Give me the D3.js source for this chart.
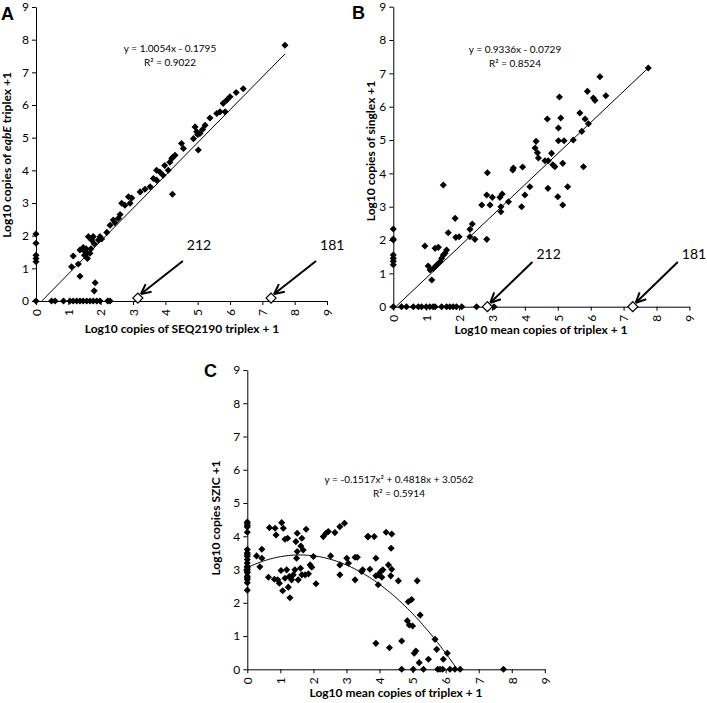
<!DOCTYPE html>
<html><head><meta charset="utf-8">
<script src="https://cdn.jsdelivr.net/npm/d3@7"></script>
<style>
body{margin:0;background:#fff}
svg{display:block}
text{font-family:Lato,"Open Sans",sans-serif;fill:#000}
</style>
</head><body>
<svg id="chart" width="707" height="703"></svg>
<script>
// ---------- data ----------
const tickValues = [0,1,2,3,4,5,6,7,8,9];

// Panel A: SEQ2190 triplex (x) vs eqbE triplex (y)
const aPoints = [
 [0,0],[0,1.2],[0,1.3],[0,1.4],[0,1.77],[0,2.05],
 [0.48,0],[0.59,0],[0.85,0],[1.05,0],[1.15,0],[1.26,0],[1.36,0],[1.46,0],[1.57,0],[1.67,0],[1.77,0],[1.88,0],[1.98,0],[2.22,0],[2.29,0],
 [1.36,0.76],[1.83,0.56],[1.8,0.31],[4.22,3.27],[5.02,4.62],
 [1.1,1.05],[1.15,1.38],[1.31,1.13],[1.36,1.56],[1.46,1.64],[1.48,1.55],[1.55,1.6],[1.59,1.47],[1.59,1.3],[1.67,1.46],[1.62,1.97],[1.72,1.87],[1.77,1.97],[1.8,1.75],[1.93,1.87],[1.98,1.97],[2.03,1.9],[1.5,1.4],[1.7,1.6],
 [2.19,2.1],[2.29,2.32],[2.39,2.48],[2.55,2.53],[2.6,2.65],[2.44,2.4],[2.65,2.99],[2.75,2.93],[2.91,2.99],[2.86,3.19],[2.96,3.15],
 [3.22,3.34],[3.37,3.42],[3.53,3.5],[3.63,3.75],[3.73,3.7],[3.73,4.0],[3.83,3.95],[3.93,3.85],[3.98,4.15],[4.09,4.0],[4.14,4.25],[4.2,4.36],[4.23,4.4],[4.3,4.46],
 [4.5,4.82],[4.56,4.67],[4.87,4.97],[4.92,5.33],[4.97,5.18],[5.07,5.13],[5.0,5.1],[5.15,5.25],[5.23,5.38],[5.38,5.6],[5.59,5.74],[5.69,5.79],[5.85,5.79],[5.79,6.05],[5.9,6.15],[6.0,6.25],[6.19,6.38],[6.41,6.5],[7.7,7.83]
];
const aOutliers = [[3.15,0.09,"212"],[7.27,0.09,"181"]];
const aFit = {slope:1.0054, intercept:-0.1795, xMax:7.7, eq:"y = 1.0054x - 0.1795", r2:"0.9022"};

// Panel B: mean triplex (x) vs singlex (y)
const bPoints = [
 [0,0],[0,1.26],[0,1.36],[0,1.45],[0,1.55],[0,2.0],[0,2.03],[0,2.33],
 [0.25,0],[0.4,0],[0.61,0],[0.76,0],[0.86,0],[1.0,0],[1.11,0],[1.21,0],[1.27,0],[1.47,0],[1.62,0],[1.72,0],[1.82,0],[1.92,0],[2.08,0],[2.53,0],[3.06,0],
 [0.96,1.82],[1.06,1.22],[1.17,0.8],[1.12,1.1],[1.22,1.15],[1.32,1.25],[1.27,1.75],[1.37,1.78],[1.42,1.35],[1.47,1.45],[1.52,1.55],[1.57,1.6],[1.62,1.7],[1.52,3.65],
 [1.67,2.22],[1.88,2.65],[1.9,2.08],[2.0,2.1],[2.33,2.32],[2.4,2.48],[2.33,2.1],[2.48,2.02],[2.84,2.02],[2.69,3.05],[2.84,3.35],[2.94,3.05],[3.01,3.28],[2.86,4.02],
 [3.24,3.28],[3.31,3.38],[3.27,3.0],[3.27,2.85],[3.5,3.15],[3.63,4.1],[3.65,4.16],[3.93,4.19],
 [3.9,3.0],[4.0,3.35],[4.15,3.6],[4.7,3.55],[5.0,3.3],[5.15,3.05],[5.3,3.6],
 [4.34,4.96],[4.31,4.76],[4.38,4.62],[4.41,4.46],[4.61,4.38],[4.71,4.38],[4.81,4.6],[4.85,4.26],[4.91,4.2],[5.15,4.3],[5.78,4.2],
 [4.68,5.63],[5.09,5.66],[5.02,5.36],[5.02,4.98],[5.19,4.98],[5.05,6.29],[5.47,5.0],[5.73,5.26],[5.67,5.81],[5.83,5.63],[5.93,5.49],
 [5.9,6.46],[6.08,6.26],[6.13,6.19],[6.28,6.9],[6.46,6.33],[7.75,7.16]
];
const bOutliers = [[2.86,0,"212"],[7.28,0,"181"]];
const bFit = {slope:0.9336, intercept:-0.0729, xMax:7.75, eq:"y = 0.9336x - 0.0729", r2:"0.8524"};

// Panel C: mean triplex (x) vs SZIC (y)
const cPoints = [
 [0,4.43],[0,4.38],[0,4.32],[0,4.28],[0,4.12],[0,3.6],[0,3.5],[0,3.45],[0,3.4],[0,3.3],[0,3.2],[0,3.1],[0,3.05],[0,3.0],[0,2.95],[0,2.9],[0,2.8],[0,2.75],[0,2.7],[0,2.6],[0,2.38],
 [0.28,3.41],[0.44,3.61],[0.44,3.34],[0.38,3.08],[0.64,2.77],[0.67,4.26],[0.84,4.24],[0.87,4.04],[1.04,4.41],[1.09,4.24],[1.14,3.91],[1.22,3.94],
 [0.82,2.71],[0.92,2.69],[0.97,2.59],[1.02,2.97],[1.07,2.36],[1.14,2.74],[1.19,2.99],[1.24,2.47],[1.29,2.15],[1.27,2.79],[1.34,2.69],[1.39,2.84],[1.44,2.99],
 [1.54,2.69],[1.49,3.34],[1.51,3.54],[1.47,3.84],[1.51,4.09],[1.65,3.94],[1.62,3.71],[1.69,3.59],[1.61,3.04],[1.65,2.84],[1.75,2.84],[1.85,2.87],[1.78,4.21],
 [1.9,3.14],[1.95,3.07],[2.0,3.39],[2.08,2.57],[2.3,3.99],[2.38,4.09],[2.45,4.14],[2.52,3.41],[2.65,4.11],[2.8,4.29],[2.94,4.39],[2.8,3.14],[2.8,2.84],
 [3.01,3.34],[3.06,3.19],[3.26,3.37],[3.33,3.37],[3.26,2.69],[3.49,2.99],[3.46,2.94],[3.64,3.99],[3.66,3.99],[3.84,3.99],[3.71,3.01],[3.89,3.34],
 [3.89,2.81],[3.96,2.84],[4.04,2.94],[4.1,2.99],[4.07,2.77],[4.2,4.12],[4.37,4.07],[4.35,3.64],[4.27,3.14],[4.37,3.01],[4.34,2.81],[3.96,2.54],[4.57,2.66],
 [5.14,2.66],[4.87,2.03],[4.97,2.1],[5.23,1.63],[4.84,1.46],[4.9,1.33],[5.0,1.3],[3.89,0.78],[4.3,0.65],[4.67,0.85],[5.68,0.9],[5.73,0.6],[6.05,0.48],
 [5.05,0.48],[5.1,0.55],[5.2,0.2],[5.48,0.3],[5.93,0.3],
 [4.67,0],[5.02,0],[5.33,0],[5.76,0],[5.83,0],[5.91,0],[6.13,0],[6.28,0],[6.44,0],[7.75,0]
];
const cFit = {a:-0.1517, b:0.4818, c:3.0562, eq:"y = -0.1517x\u00B2 + 0.4818x + 3.0562", r2:"0.5914"};

// ---------- layout ----------
const svg = d3.select("#chart");
const panels = [
 {id:"A", pts:aPoints, out:aOutliers, fit:aFit, xr:[36,327], yr:[301,7], arrowTop:261,
  letter:[1,20], eq:[170,52], yTitle:{x:11,y:155}, xTitle:{x:182,y:333},
  yLabel:[{t:"Log10 copies of "},{t:"eqbE",i:true},{t:" triplex +1"}], xLabel:"Log10 copies of SEQ2190 triplex + 1"},
 {id:"B", pts:bPoints, out:bOutliers, fit:bFit, xr:[393.3,689.4], yr:[306.7,6.7], arrowTop:262,
  letter:[352,19], eq:[515,53], yTitle:{x:375,y:151}, xTitle:{x:541,y:334},
  yLabel:[{t:"Log10 copies of singlex +1"}], xLabel:"Log10 mean copies of triplex + 1"},
 {id:"C", pts:cPoints, out:[], fit:cFit, xr:[247.3,544.8], yr:[669.3,370], arrowTop:0,
  letter:[204,377], eq:[399,483], yTitle:{x:220,y:518}, xTitle:{x:396,y:697},
  yLabel:[{t:"Log10 copies SZIC +1"}], xLabel:"Log10 mean copies of triplex + 1"}
];

const diamond = d3.symbol().type(d3.symbolSquare).size(25);
const bigDiamond = d3.symbol().type(d3.symbolSquare).size(50);

panels.forEach(p => {
  const x = d3.scaleLinear().domain([0,9]).range(p.xr);
  const y = d3.scaleLinear().domain([0,9]).range(p.yr);
  const g = svg.append("g");

  // fit line / curve
  let fitData;
  if (p.fit.slope !== undefined) {
    const x0 = -p.fit.intercept / p.fit.slope;
    fitData = [[Math.max(0,x0), 0],[p.fit.xMax, p.fit.slope*p.fit.xMax + p.fit.intercept]];
  } else {
    const f = p.fit;
    const root = (-f.b - Math.sqrt(f.b*f.b - 4*f.a*f.c)) / (2*f.a);
    fitData = d3.range(0, root, 0.05).map(v => [v, f.a*v*v + f.b*v + f.c]);
    fitData.push([root, 0]);
  }
  g.append("path").datum(fitData)
    .attr("d", d3.line().x(d=>x(d[0])).y(d=>y(d[1])))
    .attr("fill","none").attr("stroke","#000").attr("stroke-width",1);

  // axes
  const yAxis = g.append("g").attr("transform",`translate(${p.xr[0]},0)`)
    .call(d3.axisLeft(y).tickValues(tickValues).tickSize(4).tickSizeOuter(0).tickPadding(3));
  const xAxis = g.append("g").attr("transform",`translate(0,${p.yr[0]})`)
    .call(d3.axisBottom(x).tickValues(tickValues).tickSize(4).tickSizeOuter(0).tickPadding(3));
  [yAxis,xAxis].forEach(a => {
    a.selectAll("path,line").attr("stroke","#000").attr("stroke-width",1);
    a.selectAll("text").style("font-family","Lato").style("font-size","12px").attr("fill","#000");
  });
  xAxis.selectAll(".tick text")
    .attr("y",0).attr("x",-8).attr("dy","0.36em")
    .attr("transform","rotate(-90)").style("text-anchor","end");

  // points
  g.append("g").selectAll("path").data(p.pts).join("path")
    .attr("d", diamond)
    .attr("transform", d=>`translate(${x(d[0])},${y(d[1])}) rotate(45)`)
    .attr("fill","#000");

  // outliers with arrows
  p.out.forEach(o => {
    const tx = x(o[0]) + 3, ty = y(o[1]) - 4;
    const sx = tx + 42, sy = p.arrowTop;
    g.append("line").attr("x1",sx).attr("y1",sy).attr("x2",tx).attr("y2",ty)
      .attr("stroke","#000").attr("stroke-width",2);
    const ang = Math.atan2(sy-ty, sx-tx);
    [0.45,-0.45].forEach(da => {
      g.append("line").attr("x1",tx).attr("y1",ty)
        .attr("x2",tx + 11*Math.cos(ang+da)).attr("y2",ty + 11*Math.sin(ang+da))
        .attr("stroke","#000").attr("stroke-width",2);
    });
    g.append("path").attr("d", bigDiamond)
      .attr("transform",`translate(${x(o[0])},${y(o[1])}) rotate(45)`)
      .attr("fill","#fff").attr("stroke","#000").attr("stroke-width",1.2);
    g.append("text").attr("x", Math.min(sx + 4, 683)).attr("y", ty - 44)
      .style("font-size","14px").text(o[2]);
  });

  // equation text
  g.append("text").attr("x",p.eq[0]).attr("y",p.eq[1]).attr("text-anchor","middle")
    .style("font-size","10px").text(p.fit.eq);
  g.append("text").attr("x",p.eq[0]).attr("y",p.eq[1]+14).attr("text-anchor","middle")
    .style("font-size","10px").text("R\u00B2 = " + p.fit.r2);

  // axis titles
  const yt = g.append("text")
    .attr("transform",`translate(${p.yTitle.x},${p.yTitle.y}) rotate(-90)`)
    .attr("text-anchor","middle").style("font-size","12px").style("font-weight","bold");
  p.yLabel.forEach(s => yt.append("tspan").style("font-style", s.i?"italic":"normal").text(s.t));
  g.append("text").attr("x",p.xTitle.x).attr("y",p.xTitle.y).attr("text-anchor","middle")
    .style("font-size","12px").style("font-weight","bold").text(p.xLabel);

  // panel letter
  g.append("text").attr("x",p.letter[0]).attr("y",p.letter[1])
    .style("font-family","'Liberation Sans',Arial,sans-serif").style("font-size","18px").style("font-weight","bold")
    .text(p.id);
});
</script>
</body></html>
